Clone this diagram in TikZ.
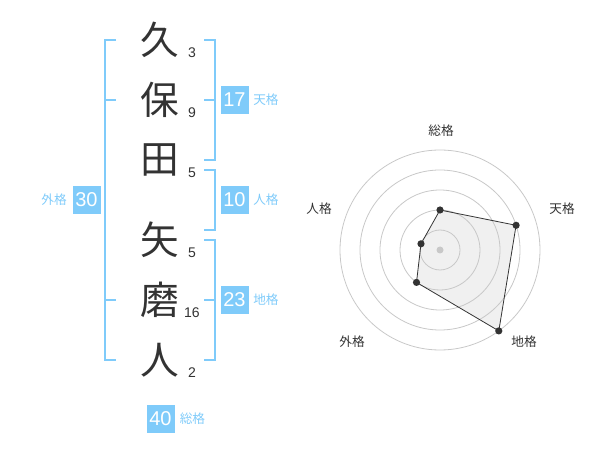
\documentclass[tikz,border=0pt]{standalone}
\usepackage{fontspec}
\setmainfont{Liberation Sans}
\newfontfamily\cjk{Noto Sans CJK JP}
\definecolor{kblue}{HTML}{7FCBFA}
\definecolor{kdark}{HTML}{333333}
\definecolor{kring}{HTML}{C8C8C8}
\definecolor{kfill}{HTML}{F0F0F0}
\begin{document}
\begin{tikzpicture}[x=0.75pt,y=-0.75pt,
  kanji/.style={font=\cjk\fontsize{29}{29}\selectfont, text=kdark, inner sep=0pt},
  strokes/.style={font=\fontsize{10.5}{10.5}\selectfont, text=kdark, inner sep=0pt},
  bracket/.style={draw=kblue, line width=1.5pt},
  numbox/.style={fill=kblue, text=white, minimum width=21pt, minimum height=21pt, inner sep=0pt, font=\fontsize{15}{15}\selectfont},
  lbl/.style={font=\cjk\fontsize{9.5}{9.5}\selectfont, text=kblue, inner sep=0pt},
  rlbl/.style={font=\cjk\fontsize{9.5}{9.5}\selectfont, text=kdark, inner sep=0pt},
  ring/.style={draw=kring, line width=0.6pt},
  dot/.style={fill=kdark},
]
\useasboundingbox (0,0) rectangle (600,470);

% characters
\node[kanji] (c1) at (160,40) {久};
\node[kanji] (c2) at (160,100) {保};
\node[kanji] (c3) at (160,160) {田};
\node[kanji] (c4) at (160,240) {矢};
\node[kanji] (c5) at (160,300) {磨};
\node[kanji] (c6) at (160,360) {人};

% stroke counts
\node[strokes] (s1) at (192,53) {3};
\node[strokes] (s2) at (192,113) {9};
\node[strokes] (s3) at (192,173) {5};
\node[strokes] (s4) at (192,253) {5};
\node[strokes] (s5) at (192,313) {16};
\node[strokes] (s6) at (192,373) {2};

% left bracket (外格)
\draw[bracket] (116,40) -- (105,40) -- (105,360) -- (116,360);
\draw[bracket] (105,100) -- (116,100);
\draw[bracket] (105,300) -- (116,300);
\node[numbox] (b30) at (86.5,200) {30};
\node[lbl, anchor=east] (l30) at (67,200) {外格};

% 天格 bracket
\draw[bracket] (204,40) -- (215,40) -- (215,160) -- (204,160);
\draw[bracket] (204,100) -- (215,100);
\node[numbox] (b17) at (234.5,100) {17};
\node[lbl, anchor=west] (l17) at (253,100) {天格};

% 人格 bracket
\draw[bracket] (204,170) -- (215,170) -- (215,230) -- (204,230);
\node[numbox] (b10) at (234.5,200) {10};
\node[lbl, anchor=west] (l10) at (253,200) {人格};

% 地格 bracket
\draw[bracket] (204,240) -- (215,240) -- (215,360) -- (204,360);
\draw[bracket] (204,300) -- (215,300);
\node[numbox] (b23) at (234.5,300) {23};
\node[lbl, anchor=west] (l23) at (253,300) {地格};

% 総格
\node[numbox] (b40) at (160.5,419) {40};
\node[lbl, anchor=west] (l40) at (179.5,419) {総格};

% radar chart
\coordinate (rc) at (440,250);
\coordinate (p1) at (440,210);
\coordinate (p2) at (516.1,225.3);
\coordinate (p3) at (498.8,330.9);
\coordinate (p4) at (416.5,282.4);
\coordinate (p5) at (421,243.8);
\fill[kfill] (p1) -- (p2) -- (p3) -- (p4) -- (p5) -- cycle;
\foreach \r in {20,40,60,80,100} \draw[ring] (rc) circle[radius=\r];
\fill[kring] (rc) circle[radius=3.5];
\draw[draw=kdark, line width=0.6pt] (p1) -- (p2) -- (p3) -- (p4) -- (p5) -- cycle;
\foreach \p in {p1,p2,p3,p4,p5} \fill[dot] (\p) circle[radius=3.6];
\node[rlbl] (r1) at (441,131) {総格};
\node[rlbl] (r2) at (562,209) {天格};
\node[rlbl] (r3) at (524,342) {地格};
\node[rlbl] (r4) at (352,342) {外格};
\node[rlbl] (r5) at (319,209) {人格};
\end{tikzpicture}
\end{document}
